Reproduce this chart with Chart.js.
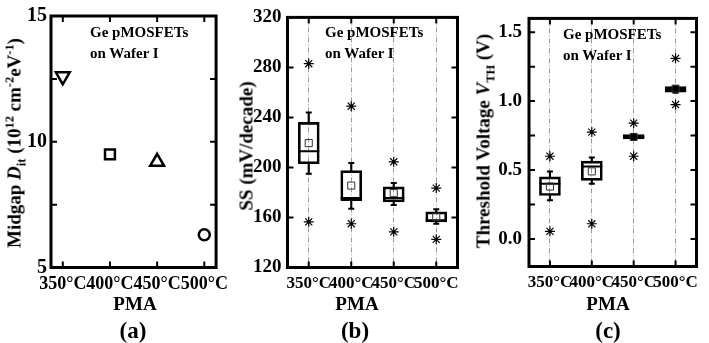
<!DOCTYPE html>
<html>
<head>
<meta charset="utf-8">
<script src="https://cdn.jsdelivr.net/npm/chart.js@4"></script>
<style>
body{margin:0;width:709px;height:343px;background:#fff;position:relative;overflow:hidden;font-family:"Liberation Serif","Times New Roman",serif;font-weight:bold;color:#000}
canvas{position:absolute;top:0}
.t{position:absolute;white-space:nowrap;line-height:1}
.c{transform:translate(-50%,-50%)}
.yt{position:absolute;white-space:nowrap;line-height:1;font-size:19px;transform:translate(-50%,-50%) rotate(-90deg)}
sub,sup{font-size:65%;line-height:0}
.note{position:absolute;font-size:15px;line-height:21px;white-space:nowrap}
</style>
</head>
<body>
<canvas id="ca" width="235" height="343" style="left:0"></canvas>
<canvas id="cb" width="235" height="343" style="left:235px"></canvas>
<canvas id="cc" width="239" height="343" style="left:470px"></canvas>

<div class="yt" style="left:14px;top:143px">Midgap <i>D</i><sub>it</sub> (10<sup>12</sup> cm<sup>-2</sup>eV<sup>-1</sup>)</div>
<div class="yt" style="left:246px;top:146px">SS (mV/decade)</div>
<div class="yt" style="left:483px;top:141px">Threshold Voltage <i>V</i><sub>TH</sub> (V)</div>

<div class="note" style="left:90px;top:22px">Ge pMOSFETs<br>on Wafer I</div>
<div class="note" style="left:325px;top:22px">Ge pMOSFETs<br>on Wafer I</div>
<div class="note" style="left:563px;top:24px">Ge pMOSFETs<br>on Wafer I</div>

<div class="t c" style="left:135px;top:303px;font-size:19px">PMA</div>
<div class="t c" style="left:357px;top:303px;font-size:19px">PMA</div>
<div class="t c" style="left:608px;top:303px;font-size:19px">PMA</div>
<div class="t c" style="left:133px;top:330px;font-size:23px">(a)</div>
<div class="t c" style="left:355px;top:330px;font-size:23px">(b)</div>
<div class="t c" style="left:608px;top:330px;font-size:23px">(c)</div>

<script>
const categories = ['350°C', '400°C', '450°C', '500°C'];

// (a) midgap Dit, 1e12 cm^-2 eV^-1
const dit = [12.6, 9.5, 9.2, 6.3];
const ditTicks = [5, 10, 15];

// (b) subthreshold swing, mV/decade
const ssWhiskLo = [195, 167, 170, 155];
const ssQ1 = [203, 173.5, 172.5, 156.5];
const ssMedian = [213, 175.5, 175.5, 157.5];
const ssQ3 = [236, 197.5, 184.5, 164.5];
const ssWhiskHi = [244, 203.5, 187.5, 166.5];
const ssMean = [219.5, 185.5, 179.5, 160.5];
const ssMin = [156.5, 155, 148.5, 142.5];
const ssMax = [283, 249, 204.5, 183.5];

// (c) threshold voltage, V
const vthWhiskLo = [0.28, 0.40, 0.72, 1.06];
const vthQ1 = [0.315, 0.425, 0.725, 1.065];
const vthMedian = [0.40, 0.525, 0.74, 1.085];
const vthQ3 = [0.45, 0.565, 0.758, 1.105];
const vthWhiskHi = [0.49, 0.59, 0.762, 1.11];
const vthMean = [0.38, 0.49, 0.74, 1.09];
const vthMin = [0.055, 0.11, 0.60, 0.975];
const vthMax = [0.60, 0.775, 0.84, 1.31];

const FONT = '"Liberation Serif", "Times New Roman", serif';
Chart.defaults.font.family = FONT;
Chart.defaults.color = '#000';
const tickFont = size => ({family: FONT, size: size, weight: 'bold'});

// box frame + inner ticks on all four sides
const framePlugin = {
  id: 'frame',
  afterDatasetsDraw(chart) {
    const {ctx, chartArea: a, scales} = chart;
    ctx.save();
    ctx.strokeStyle = '#000';
    ctx.lineWidth = 2;
    const len = 6;
    ctx.beginPath();
    scales.y.ticks.forEach(t => {
      const py = scales.y.getPixelForValue(t.value);
      ctx.moveTo(a.left, py); ctx.lineTo(a.left + len, py);
      ctx.moveTo(a.right, py); ctx.lineTo(a.right - len, py);
    });
    scales.x.ticks.forEach((t, i) => {
      const px = scales.x.getPixelForTick(i);
      ctx.moveTo(px, a.bottom); ctx.lineTo(px, a.bottom - len);
      ctx.moveTo(px, a.top); ctx.lineTo(px, a.top + len);
    });
    ctx.stroke();
    ctx.lineWidth = 3;
    ctx.strokeRect(a.left, a.top, a.right - a.left, a.bottom - a.top);
    ctx.restore();
  }
};

// fixed axis boxes so the plot frame lands where the reference has it
const fixW = w => s => { s.width = w; };
const fixH = h => s => { s.height = h; };

// ---- (a)
new Chart(document.getElementById('ca'), {
  type: 'scatter',
  data: {
    datasets: [{
      data: dit.map((v, i) => ({x: i + 1, y: v})),
      pointStyle: ['triangle', 'rect', 'triangle', 'circle'],
      rotation: [180, 0, 0, 0],
      radius: [8, 7, 8, 5.5],
      borderColor: '#000',
      backgroundColor: 'rgba(0,0,0,0)',
      borderWidth: 2.5
    }]
  },
  options: {
    responsive: false,
    animation: false,
    layout: {padding: {left: 0, right: 15.5, top: 6, bottom: 0}},
    plugins: {legend: {display: false}, tooltip: {enabled: false}},
    scales: {
      x: {
        type: 'linear', min: 0.75, max: 4.25,
        afterFit: fixH(75.5),
        grid: {display: false, drawTicks: false},
        border: {display: false},
        ticks: {stepSize: 1, includeBounds: false, padding: 6, maxRotation: 0, autoSkip: false,
          font: tickFont(18), callback: v => categories[v - 1] || ''}
      },
      y: {
        min: 5, max: 15,
        afterFit: fixW(51),
        grid: {display: false, drawTicks: false},
        border: {display: false},
        ticks: {stepSize: 2.5, padding: 4, font: tickFont(20),
          callback: v => ditTicks.includes(v) ? v : ''}
      }
    }
  },
  plugins: [framePlugin]
});

// shared box-plot builder for (b) and (c)
function boxDatasets(lo, q1, med, q3, hi, mean, mn, mx) {
  const dot = {type: 'line', showLine: false, borderColor: '#000', backgroundColor: 'rgba(0,0,0,0)'};
  return [
    {...dot, data: mean, pointStyle: 'rect', radius: 5, borderWidth: 1, borderColor: '#333'},
    {...dot, data: med, pointStyle: 'line', radius: 10.5, borderWidth: 2},
    {...dot, data: mx, pointStyle: 'star', radius: 5, borderWidth: 1.2},
    {...dot, data: mn, pointStyle: 'star', radius: 5, borderWidth: 1.2},
    {...dot, data: hi, pointStyle: 'line', radius: 3, borderWidth: 2},
    {...dot, data: lo, pointStyle: 'line', radius: 3, borderWidth: 2},
    {type: 'bar', data: q1.map((v, i) => [v, q3[i]]), barThickness: 21, grouped: false,
      borderColor: '#000', borderWidth: 2, borderSkipped: false, backgroundColor: 'rgba(255,255,255,0)'},
    {type: 'bar', data: q3.map((v, i) => [v, hi[i]]), barThickness: 1.5, grouped: false,
      backgroundColor: '#000', borderWidth: 0},
    {type: 'bar', data: lo.map((v, i) => [v, q1[i]]), barThickness: 1.5, grouped: false,
      backgroundColor: '#000', borderWidth: 0}
  ];
}

function boxOptions(yW, right, xH, yOpts) {
  return {
    responsive: false,
    animation: false,
    layout: {padding: {left: 0, right: right, top: 6, bottom: 0}},
    plugins: {legend: {display: false}, tooltip: {enabled: false}},
    scales: {
      x: {
        type: 'category', offset: true,
        afterFit: fixH(xH),
        grid: {display: true, offset: false, drawTicks: false, color: '#9a9a9a', lineWidth: 1},
        border: {display: false, dash: [5, 2, 1, 2]},
        ticks: {padding: 6, maxRotation: 0, autoSkip: false, font: tickFont(17)}
      },
      y: Object.assign({
        afterFit: fixW(yW),
        grid: {display: false, drawTicks: false},
        border: {display: false}
      }, yOpts)
    }
  };
}

// ---- (b)
new Chart(document.getElementById('cb'), {
  type: 'bar',
  data: {
    labels: categories,
    datasets: boxDatasets(ssWhiskLo, ssQ1, ssMedian, ssQ3, ssWhiskHi, ssMean, ssMin, ssMax)
  },
  options: boxOptions(52.5, 11.5, 75.5,
    {min: 120, max: 320, ticks: {stepSize: 40, padding: 6, font: tickFont(19)}}),
  plugins: [framePlugin]
});

// ---- (c)
new Chart(document.getElementById('cc'), {
  type: 'bar',
  data: {
    labels: categories,
    datasets: boxDatasets(vthWhiskLo, vthQ1, vthMedian, vthQ3, vthWhiskHi, vthMean, vthMin, vthMax)
  },
  options: boxOptions(59, 10.5, 76.5,
    {min: -0.2, max: 1.6, ticks: {stepSize: 0.25, includeBounds: false, padding: 7, font: tickFont(19),
      callback: v => Math.abs(v * 2 - Math.round(v * 2)) < 1e-6 ? v.toFixed(1) : ''}}),
  plugins: [framePlugin]
});
</script>
</body>
</html>
